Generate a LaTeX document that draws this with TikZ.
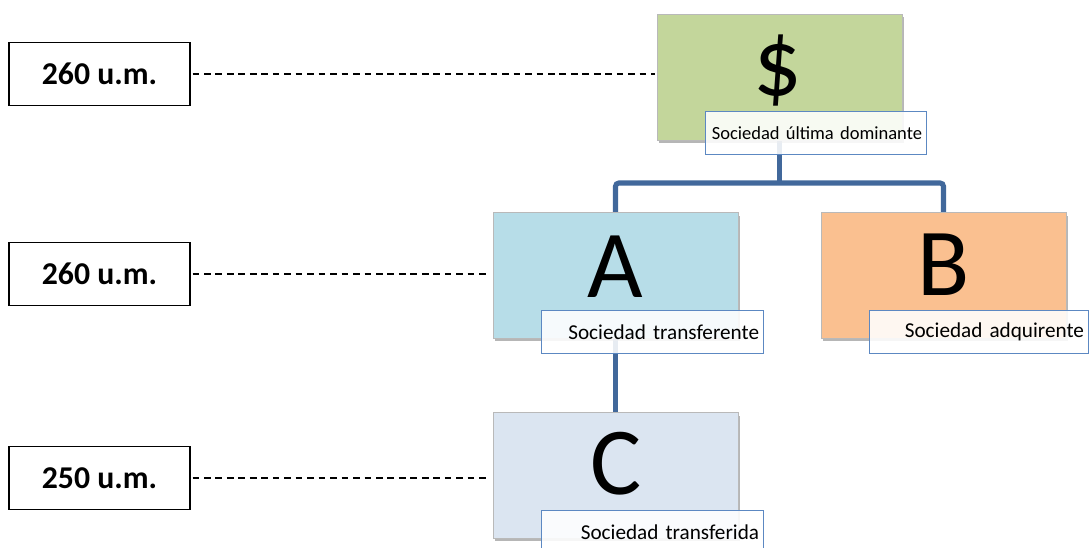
\documentclass[tikz,border=0pt]{standalone}
\usepackage{fontspec}
\setmainfont{Carlito}
\usetikzlibrary{shadows}
\definecolor{rootgreen}{RGB}{195,214,155}
\definecolor{acyan}{RGB}{183,221,232}
\definecolor{borange}{RGB}{250,192,144}
\definecolor{cpale}{RGB}{219,229,241}
\definecolor{trunkblue}{RGB}{65,104,155}
\definecolor{tagblue}{RGB}{92,136,194}
\begin{document}
\begin{tikzpicture}[x=0.75pt,y=-0.75pt,
  entity/.style={draw=gray!55, line width=0.6pt, minimum width=183.75pt,
    minimum height=94pt, inner sep=0pt,
    drop shadow={shadow xshift=1.6pt, shadow yshift=-2.2pt, opacity=0.35}},
  bigletter/.style={anchor=base, inner sep=0pt, font=\fontsize{72}{72}\selectfont},
  tag/.style={draw=tagblue, line width=1.1pt, fill=white, fill opacity=0.88,
    text opacity=1, anchor=north west, minimum height=32pt, inner xsep=3.5pt,
    inner ysep=0pt, align=right, font=\fontsize{15.9}{18}\selectfont},
  amount/.style={draw=black, line width=0.8pt, minimum width=135.75pt,
    minimum height=47.5pt, inner sep=0pt, font=\bfseries\fontsize{23.8}{26}\selectfont},
  trunk/.style={draw=trunkblue, line width=3.8pt, rounded corners=2.5pt},
  guide/.style={draw=black, line width=0.95pt, dash pattern=on 5pt off 3.6pt}
]
\useasboundingbox (0,0) rectangle (1089,547);

% group members
\coordinate (bus) at (779.5,183);
\node[entity, fill=rootgreen, minimum height=94.5pt] (root) at (779.5,77) {};
\node[entity, fill=acyan] (A) at (615.5,275.5) {};
\node[entity, fill=borange] (B) at (943.5,275.5) {};
\node[entity, fill=cpale] (C) at (615.5,475.5) {};

% ownership links
\draw[trunk] (root.south) -- (bus);
\draw[trunk] (A.north) |- (bus) -| (B.north);
\draw[trunk] (A.south) -- (C.north);
\node[entity, fill=rootgreen, minimum height=94.5pt] at (779.5,77) {};
\node[entity, fill=acyan] at (615.5,275.5) {};
\node[entity, fill=borange] at (943.5,275.5) {};
\node[entity, fill=cpale] at (615.5,475.5) {};

% letters
\node[bigletter] (rootsym) at (777.5,95) {\$};
\node[bigletter] (Asym) at (615.5,297) {A};
\node[bigletter] (Bsym) at (944,295) {B};
\node[bigletter] (Csym) at (616,494) {C};

% role tags
\node[tag, text width=158.75pt, font=\fontsize{13.9}{16}\selectfont] (roottag) at (705,111) {Sociedad última dominante};
\node[tag, text width=159.5pt] (Atag) at (541,310) {Sociedad transferente};
\node[tag, text width=157.25pt] (Btag) at (869,310) {Sociedad adquirente};
\node[tag, text width=159.5pt] (Ctag) at (541,510) {Sociedad transferida};

% amounts
\node[amount] (v1) at (99.5,74) {260 u.m.};
\node[amount] (v2) at (99.5,274) {260 u.m.};
\node[amount] (v3) at (99.5,478) {250 u.m.};

\draw[guide] ([xshift=1.5pt]v1.east) -- ([xshift=-1.5pt]v1.east -| root.west);
\draw[guide] ([xshift=1.5pt]v2.east) -- ([xshift=-1.5pt]v2.east -| A.west);
\draw[guide] ([xshift=1.5pt]v3.east) -- ([xshift=-1.5pt]v3.east -| C.west);
\end{tikzpicture}
\end{document}
